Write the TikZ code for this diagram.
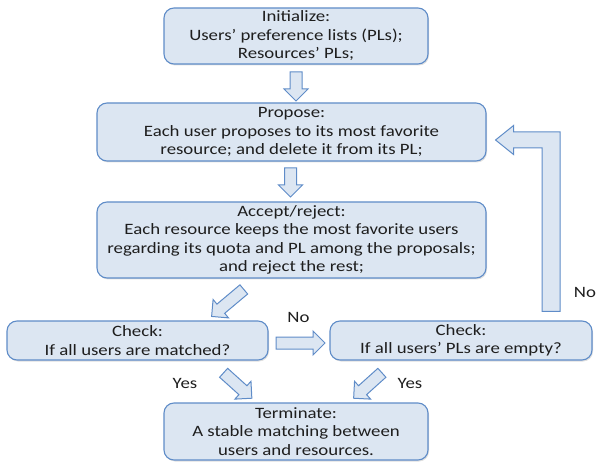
\documentclass[tikz,border=0pt]{standalone}
\usepackage{fontspec}
\setmainfont{Carlito}[FakeStretch=1.19]
\usepackage{tikz}
\usetikzlibrary{shapes.arrows,positioning,calc,shadows}
\usepackage{xcolor}
\definecolor{boxfill}{RGB}{220,230,242}
\definecolor{boxline}{RGB}{95,140,200}
\definecolor{txt}{RGB}{30,30,30}

\begin{document}
\begin{tikzpicture}[x=1pt,y=1pt,
	stepbox/.style={draw=boxline, fill=boxfill, line width=1.1pt, rounded corners=10pt,
		align=center, text=txt, inner sep=1pt,
		font=\fontsize{15.8}{18.5}\selectfont,
		drop shadow={shadow xshift=1pt, shadow yshift=-1.5pt, opacity=0.25}},
	blockarrow/.style={single arrow, draw=boxline, fill=boxfill, line width=1pt,
		inner xsep=0pt, inner ysep=5.5pt, single arrow head extend=6pt},
	lbl/.style={text=txt, font=\fontsize{15.8}{18.5}\selectfont}]
	\useasboundingbox (0,0) rectangle (597,464);

	% boxes
	\node[stepbox, minimum width=264, minimum height=56] (init) at (296,428)
		{Initialize:\\Users’ preference lists (PLs);\\Resources’ PLs;};
	\node[stepbox, minimum width=389, minimum height=58] (propose) at (291.5,332)
		{Propose:\\Each user proposes to its most favorite\\resource; and delete it from its PL;};
	\node[stepbox, minimum width=389, minimum height=76] (accept) at (291.5,224)
		{Accept/reject:\\Each resource keeps the most favorite users\\regarding its quota and PL among the proposals;\\and reject the rest;};
	\node[stepbox, minimum width=261, minimum height=39] (check1) at (137.5,123.5)
		{Check:\\If all users are matched?};
	\node[stepbox, minimum width=262, minimum height=39] (check2) at (461,123.5)
		{Check:\\If all users’ PLs are empty?};
	\node[stepbox, minimum width=264, minimum height=57] (term) at (296,32.5)
		{Terminate:\\A stable matching between\\users and resources.};

	% block arrows
	\node[blockarrow, minimum height=29, rotate=270] (a1) at (296,380.5) {};
	\node[blockarrow, minimum height=29, rotate=270] (a2) at (290.5,284.5) {};
	\node[blockarrow, minimum height=42, rotate=220] (a3) at (230,163) {};
	\node[blockarrow, minimum height=49] (a4) at (297.5,121) {};
	\node[blockarrow, minimum height=38, rotate=-42] (a5) at (235.5,80.5) {};
	\node[blockarrow, minimum height=38, rotate=222] (a6) at (370,80.5) {};

	% loop back from check2 to propose
	\coordinate (loopbot) at ([xshift=90pt,yshift=9pt]check2.north);
	\coordinate (looptip) at ([xshift=9pt,yshift=-8pt]propose.east);
	\draw[draw=boxline, fill=boxfill, line width=1pt, line join=miter]
		let \p1=(loopbot), \p2=(looptip) in
		(\x1-9pt,\y1) -- (\x1-9pt,\y2-8pt) -- (\x2+18pt,\y2-8pt) -- (\x2+18pt,\y2-14.5pt)
		-- (\x2,\y2) -- (\x2+18pt,\y2+14.5pt) -- (\x2+18pt,\y2+8pt) -- (\x1+9pt,\y2+8pt)
		-- (\x1+9pt,\y1) -- cycle;

	% labels
	\node[lbl] (no1) at (298.5,147) {No};
	\node[lbl] (no2) at (585,172) {No};
	\node[lbl] (yes1) at (185,81) {Yes};
	\node[lbl] (yes2) at (410,81) {Yes};
\end{tikzpicture}
\end{document}
